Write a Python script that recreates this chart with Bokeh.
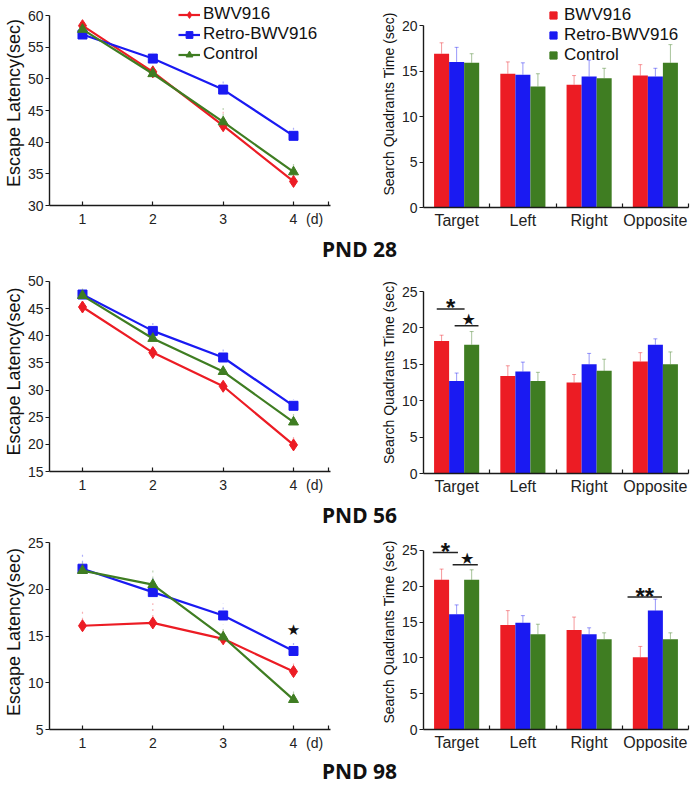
from bokeh.plotting import figure
from bokeh.layouts import column, row
from bokeh.models import FixedTicker, Legend, LegendItem, ColumnDataSource, Label
from bokeh.core.properties import value
from bokeh.embed import file_html
from bokeh.resources import INLINE

# ---------------- data ----------------
days = [1, 2, 3, 4]
quadrants = ["Target", "Left", "Right", "Opposite"]
groups = ["BWV916", "Retro-BWV916", "Control"]

# escape latency (sec)
lat28_bwv = [58.4, 51.1, 42.6, 33.8]
lat28_retro = [57.0, 53.2, 48.3, 41.0]
lat28_ctrl = [57.8, 50.8, 43.2, 35.3]
lat28_err_bwv = [0.7, 1.0, 2.6, 1.5]
lat28_err_retro = [0.9, 1.0, 1.6, 1.9]
lat28_err_ctrl = [0.8, 1.2, 2.3, 1.4]

lat56_bwv = [45.3, 36.9, 30.7, 19.9]
lat56_retro = [47.6, 40.9, 36.0, 27.1]
lat56_ctrl = [47.4, 39.5, 33.4, 24.1]
lat56_err_bwv = [0.8, 0.9, 0.9, 1.5]
lat56_err_retro = [0.8, 1.6, 1.6, 1.2]
lat56_err_ctrl = [1.3, 1.2, 1.2, 1.5]

lat98_bwv = [16.1, 16.4, 14.7, 11.2]
lat98_retro = [22.2, 19.7, 17.2, 13.4]
lat98_ctrl = [22.0, 20.5, 14.9, 8.2]
lat98_err_bwv = [1.8, 2.1, 1.2, 1.3]
lat98_err_retro = [1.8, 1.8, 1.3, 1.0]
lat98_err_ctrl = [1.0, 1.6, 1.3, 1.0]

# search quadrant time (sec)
sq28_bwv = [16.9, 14.7, 13.5, 14.5]
sq28_retro = [16.0, 14.6, 14.4, 14.4]
sq28_ctrl = [15.9, 13.3, 14.2, 15.9]
sq28_err_bwv = [1.2, 1.3, 1.0, 1.2]
sq28_err_retro = [1.6, 1.3, 1.8, 0.9]
sq28_err_ctrl = [1.0, 1.4, 1.1, 2.0]

sq56_bwv = [18.2, 13.4, 12.5, 15.4]
sq56_retro = [12.7, 14.0, 15.0, 17.7]
sq56_ctrl = [17.7, 12.7, 14.1, 15.0]
sq56_err_bwv = [0.8, 1.4, 1.1, 1.2]
sq56_err_retro = [1.1, 1.3, 1.5, 0.8]
sq56_err_ctrl = [1.8, 1.2, 1.6, 1.7]

sq98_bwv = [20.9, 14.6, 13.9, 10.1]
sq98_retro = [16.1, 14.9, 13.3, 16.6]
sq98_ctrl = [20.9, 13.3, 12.6, 12.6]
sq98_err_bwv = [1.5, 2.0, 1.8, 1.5]
sq98_err_retro = [1.3, 1.0, 0.9, 1.6]
sq98_err_ctrl = [1.4, 1.4, 0.9, 0.9]

# significance brackets: (x start, x end, y, symbol)
sig56 = [(-0.30, 0.12, 22.6, "*"), (-0.03, 0.33, 20.3, "\u2605")]
sig98 = [(-0.36, 0.02, 24.7, "*"), (-0.06, 0.32, 23.0, "\u2605"), (2.58, 3.10, 18.5, "**")]
star98_latency = (4, 15.6)

# ---------------- style ----------------
RED = "#ec1c24"
BLUE = "#1a1af2"
GREEN = "#3f7d22"
COLORS = [RED, BLUE, GREEN]
MARKERS = ["diamond", "square", "triangle"]
MSIZES = [12, 9, 10]
FONT = "Liberation Sans"


def style_common(p):
    p.grid.visible = False
    p.outline_line_color = None
    p.background_fill_color = "white"
    p.border_fill_color = "white"
    for ax in p.axis:
        ax.axis_line_color = "#1a1a1a"
        ax.axis_line_width = 1.4
        ax.major_tick_line_color = "#1a1a1a"
        ax.minor_tick_line_color = "#1a1a1a"
        ax.major_tick_line_width = 1.2
        ax.minor_tick_line_width = 1.2
        ax.major_label_text_font = FONT
        ax.major_label_text_color = "#222222"
        ax.major_label_text_font_size = "14px"
        ax.axis_label_text_font = FONT
        ax.axis_label_text_font_style = "normal"
        ax.axis_label_text_color = "#111111"


def line_panel(yr, yticks, series, errs, bt, fh, bb, legend=False, star=None):
    p = figure(frame_width=281, frame_height=fh, x_range=(0.531, 4.526), y_range=yr,
               min_border_left=41, min_border_right=45, min_border_top=bt, min_border_bottom=bb,
               output_backend="svg", toolbar_location=None)
    style_common(p)
    p.yaxis.bounds = (yticks[0], yticks[-1])
    p.yaxis.ticker = FixedTicker(ticks=yticks)
    p.yaxis.major_tick_out = 4
    p.yaxis.major_tick_in = 0
    p.yaxis.minor_tick_out = 0
    p.yaxis.major_label_standoff = 2
    p.yaxis.axis_label = "Escape Latency(sec)"
    p.yaxis.axis_label_text_font_size = "18px"
    p.yaxis.axis_label_standoff = 1
    p.xaxis.ticker = FixedTicker(ticks=[1, 2, 3, 4, 4.3], minor_ticks=[1, 2, 3, 4, 4.5])
    p.xaxis.major_label_overrides = {1: "1", 2: "2", 3: "3", 4: "4", 4.3: "(d)"}
    p.xaxis.major_tick_in = 0
    p.xaxis.major_tick_out = 0
    p.xaxis.minor_tick_in = 4
    p.xaxis.minor_tick_out = 0
    p.xaxis.major_label_standoff = 5
    items = []
    for vals, err, color, marker, size, name in zip(series, errs, COLORS, MARKERS, MSIZES, groups):
        src = ColumnDataSource(dict(x=days, y=vals, top=[v + e for v, e in zip(vals, err)]))
        p.segment(x0="x", y0="y", x1="x", y1="top", source=src, line_color=color,
                  line_alpha=0.35, line_width=1.2, line_dash="dotted")
        l = p.line("x", "y", source=src, line_color=color, line_width=2.2)
        s = p.scatter("x", "y", source=src, marker=marker, size=size, fill_color=color, line_color=color)
        items.append(LegendItem(label=name, renderers=[l, s]))
    if legend:
        lg = Legend(items=items, location=(129, fh - 64), padding=0, spacing=0, margin=0,
                    label_height=17, glyph_height=17, glyph_width=22, label_standoff=3,
                    label_text_font=FONT, label_text_font_size="17px", label_text_color="#111111",
                    background_fill_alpha=0, border_line_color=None)
        p.add_layout(lg, "center")
    if star is not None:
        p.text(x=[star[0]], y=[star[1]], text=["\u2605"], text_font=value("DejaVu Sans"),
               text_font_size="15px", text_align="center", text_baseline="middle", text_color="#111111")
    return p


def bar_panel(yr, yticks, series, errs, bt, fh, bb, legend=False, sigs=None):
    p = figure(frame_width=265, frame_height=fh, x_range=(-0.5, 3.5), y_range=yr,
               min_border_left=48, min_border_right=5, min_border_top=bt, min_border_bottom=bb,
               output_backend="svg", toolbar_location=None)
    style_common(p)
    p.yaxis.bounds = (yticks[0], yticks[-1])
    p.yaxis.ticker = FixedTicker(ticks=yticks)
    p.yaxis.major_tick_out = 4
    p.yaxis.major_tick_in = 0
    p.yaxis.minor_tick_out = 0
    p.yaxis.major_label_standoff = 2
    p.yaxis.axis_label = "Search Quadrants Time (sec)"
    p.yaxis.axis_label_text_font_size = "14px"
    p.yaxis.axis_label_standoff = 2
    p.xaxis.ticker = FixedTicker(ticks=[0, 1, 2, 3], minor_ticks=[0.5, 1.5, 2.5, 3.5])
    p.xaxis.major_label_overrides = {i: q for i, q in enumerate(quadrants)}
    p.xaxis.major_label_text_font_size = "16px"
    p.xaxis.major_tick_in = 0
    p.xaxis.major_tick_out = 0
    p.xaxis.minor_tick_in = 4
    p.xaxis.minor_tick_out = 0
    p.xaxis.major_label_standoff = 4
    offsets = [-0.227, 0.0, 0.227]
    w = 0.227
    items = []
    for k, (vals, err, color, name) in enumerate(zip(series, errs, COLORS, groups)):
        xs = [i + offsets[k] for i in range(len(quadrants))]
        tops = [v + e for v, e in zip(vals, err)]
        src = ColumnDataSource(dict(x=xs, y=vals, top=tops,
                                    cl=[x - 0.03 for x in xs], cr=[x + 0.03 for x in xs]))
        p.segment(x0="x", y0="y", x1="x", y1="top", source=src, line_color=color, line_alpha=0.45, line_width=1)
        p.segment(x0="cl", y0="top", x1="cr", y1="top", source=src, line_color=color, line_alpha=0.45, line_width=1)
        p.vbar(x="x", top="y", bottom=0, width=w, source=src, fill_color=color, line_color=None)
        s = p.scatter("x", "y", source=src, marker="square", fill_color=color, line_color=color, visible=False)
        items.append(LegendItem(label=name, renderers=[s]))
    if legend:
        lg = Legend(items=items, location=(121, fh - 65), padding=0, spacing=0, margin=0,
                    label_height=18, glyph_height=18, glyph_width=18, label_standoff=2,
                    label_text_font=FONT, label_text_font_size="17px", label_text_color="#111111",
                    background_fill_alpha=0, border_line_color=None)
        p.add_layout(lg, "center")
    if sigs:
        for x0, x1, y, sym in sigs:
            p.segment(x0=[x0], y0=[y], x1=[x1], y1=[y], line_color="#222222", line_width=1.5)
            if sym == "\u2605":
                p.text(x=[(x0 + x1) / 2 + 0.03], y=[y], text=[sym], text_font=value("DejaVu Sans"),
                       text_font_size="16px", text_align="center", text_baseline="alphabetic",
                       y_offset=-6, text_color="#111111")
            else:
                p.text(x=[(x0 + x1) / 2], y=[y], text=[sym], text_font=value(FONT),
                       text_font_style="bold", text_font_size="24px", text_align="center",
                       text_baseline="alphabetic", y_offset=-1, text_color="#111111")
    return p


def title_fig(text, h, cy):
    p = figure(width=681, height=h, x_range=(0, 681), y_range=(0, h), min_border=0,
               x_axis_location=None, y_axis_location=None, output_backend="svg", toolbar_location=None)
    p.grid.visible = False
    p.outline_line_color = None
    p.add_layout(Label(x=359, y=h - cy, text=text, text_align="center", text_baseline="middle",
                       text_font="Noto Sans", text_font_style="bold", text_font_size="21px",
                       text_color="#111111"))
    return p


p1 = line_panel((30, 62.37), [30, 35, 40, 45, 50, 55, 60],
                [lat28_bwv, lat28_retro, lat28_ctrl], [lat28_err_bwv, lat28_err_retro, lat28_err_ctrl],
                0, 205, 25, legend=True)
p2 = bar_panel((0, 22.75), [0, 5, 10, 15, 20],
               [sq28_bwv, sq28_retro, sq28_ctrl], [sq28_err_bwv, sq28_err_retro, sq28_err_ctrl],
               0, 207, 23, legend=True)
t1 = title_fig("PND 28", 32, 17)

p3 = line_panel((15, 51.84), [15, 20, 25, 30, 35, 40, 45, 50],
                [lat56_bwv, lat56_retro, lat56_ctrl], [lat56_err_bwv, lat56_err_retro, lat56_err_ctrl],
                8, 200, 25)
p4 = bar_panel((0, 27.75), [0, 5, 10, 15, 20, 25],
               [sq56_bwv, sq56_retro, sq56_ctrl], [sq56_err_bwv, sq56_err_retro, sq56_err_ctrl],
               8, 202, 23, sigs=sig56)
t2 = title_fig("PND 56", 32, 17)

p5 = line_panel((5, 25.86), [5, 10, 15, 20, 25],
                [lat98_bwv, lat98_retro, lat98_ctrl], [lat98_err_bwv, lat98_err_retro, lat98_err_ctrl],
                5, 195, 24, star=star98_latency)
p6 = bar_panel((0, 27.23), [0, 5, 10, 15, 20, 25],
               [sq98_bwv, sq98_retro, sq98_ctrl], [sq98_err_bwv, sq98_err_retro, sq98_err_ctrl],
               5, 195, 24, sigs=sig98)
t3 = title_fig("PND 98", 32, 17)

layout = column(row(p1, p2), t1, row(p3, p4), t2, row(p5, p6), t3)
open("out.html", "w").write(file_html(layout, INLINE))
